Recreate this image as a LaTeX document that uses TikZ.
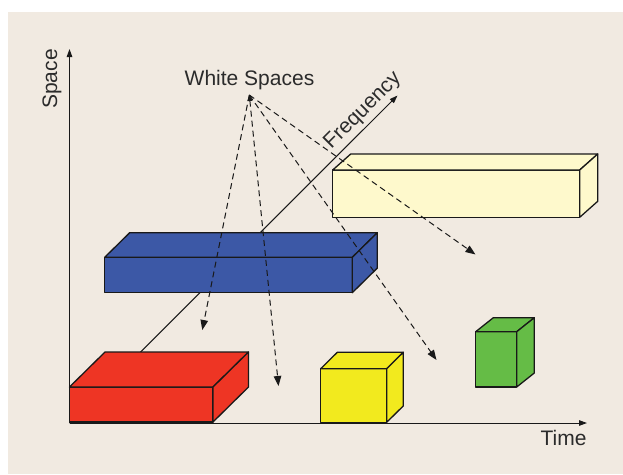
\documentclass[tikz,border=0pt]{standalone}
\usepackage{fontspec}
\setmainfont{Liberation Sans}
\usetikzlibrary{arrows.meta}
\definecolor{bgc}{HTML}{F1EAE1}
\definecolor{redbox}{HTML}{EE3524}
\definecolor{bluebox}{HTML}{3C58A6}
\definecolor{creambox}{HTML}{FEF9CC}
\definecolor{yellowbox}{HTML}{F2EA1E}
\definecolor{greenbox}{HTML}{65BC46}
\definecolor{ink}{HTML}{2B2B2B}
\newcommand\cuboid[7]{%
  \filldraw[boxline, fill=#1] (#2,#3) rectangle (#4,#5);
  \filldraw[boxline, fill=#1] (#2,#3) -- ++(#6,-#7) -- ({#4+#6},{#3-#7}) -- (#4,#3) -- cycle;
  \filldraw[boxline, fill=#1] (#4,#3) -- ++(#6,-#7) -- ({#4+#6},{#5-#7}) -- (#4,#5) -- cycle;
}
\begin{document}
\begin{tikzpicture}[x=1pt,y=-1pt,
  boxline/.style={draw=black!90, line width=1.3pt, line join=round},
  axisline/.style={draw=black!90, line width=1pt, -{Triangle[length=8pt,width=5.5pt]}},
  wsarrow/.style={draw=black!90, line width=1pt, dash pattern=on 6pt off 4pt, -{Triangle[length=10pt,width=7.5pt]}},
  lbl/.style={text=ink, font=\fontsize{21}{25}\selectfont, inner sep=0pt}]
\useasboundingbox (0,0) rectangle (623,474);
\fill[white] (0,0) rectangle (623,474);
\fill[bgc] (8,12) rectangle (623,474);
% axes coordinates
\coordinate (O) at (69.5,423);
\coordinate (spaceEnd) at (69.5,49);
\coordinate (timeEnd) at (587,423);
\coordinate (freqEnd) at (397.5,95.5);
% frequency axis (behind boxes)
\draw[axisline] (O) -- (freqEnd);
% boxes
\cuboid{redbox}{69.5}{387}{213}{422}{35.5}{35}
\cuboid{bluebox}{104.7}{257.3}{352.3}{292.7}{25}{24.6}
\cuboid{creambox}{332.7}{170}{579.7}{217.3}{18}{16}
\cuboid{yellowbox}{320.7}{368.7}{386.7}{422.3}{16.6}{16.4}
\cuboid{greenbox}{475.7}{331.7}{516.7}{387}{17.6}{14}
% time and space axes
\draw[axisline] (O) -- (spaceEnd);
\draw[axisline] (O) -- (timeEnd);
% labels
\node[lbl, anchor=base] (ws) at (249.5,85.5) {White Spaces};
\node[lbl, anchor=base] (time) at (563.5,445.5) {Time};
\node[lbl, rotate=90] (space) at (52,79) {Space};
\node[lbl, rotate=45] (freq) at (363,111) {Frequency};
% white-space arrows
\coordinate (src) at (249.3,95);
\coordinate (t1) at (202.3,330);
\coordinate (t2) at (278.5,386);
\coordinate (t3) at (436.5,360);
\coordinate (t4) at (475.5,254.5);
\draw[wsarrow] (src) -- (t1);
\draw[wsarrow, {Triangle[length=6pt,width=5pt]}-{Triangle[length=10pt,width=7.5pt]}] (src) -- (t2);
\draw[wsarrow] (src) -- (t3);
\draw[wsarrow] (src) -- (t4);
\end{tikzpicture}
\end{document}
